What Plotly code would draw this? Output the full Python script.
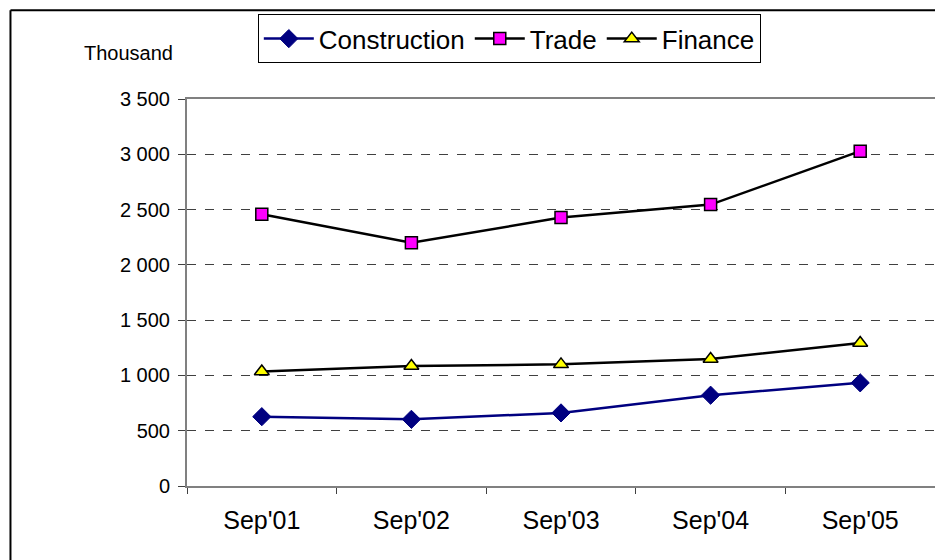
import plotly.graph_objects as go

categories = ["Sep'01", "Sep'02", "Sep'03", "Sep'04", "Sep'05"]
construction = [627, 603, 661, 821, 933]
trade = [2458, 2199, 2428, 2545, 3028]
finance = [1036, 1085, 1100, 1148, 1294]
y_ticks = [0, 500, 1000, 1500, 2000, 2500, 3000, 3500]
y_tick_labels = ["0", "500", "1 000", "1 500", "2 000", "2 500", "3 000", "3 500"]

OFF = 8  # default body margin of the page
W, H = 943 - OFF, 560 - OFF
L = 187 - OFF
T = 98 - OFF
R = W - (937 - OFF)
B = H - (486 - OFF)
pw, ph = W - L - R, H - T - B


def px(x):
    return (x - OFF - L) / pw


def py(y):
    return (H - B - (y - OFF)) / ph


fig = go.Figure()
fig.add_trace(go.Scatter(
    x=categories, y=construction, name="Construction", mode="lines+markers",
    line=dict(color="#000080", width=2.5),
    marker=dict(symbol="diamond", size=14, color="#000080", line=dict(color="#000080", width=1))))
fig.add_trace(go.Scatter(
    x=categories, y=trade, name="Trade", mode="lines+markers",
    line=dict(color="#000000", width=2.5),
    marker=dict(symbol="square", size=12, color="#FF00FF", line=dict(color="#000000", width=1.5))))
fig.add_trace(go.Scatter(
    x=categories, y=finance, name="Finance", mode="lines+markers",
    line=dict(color="#000000", width=2.5),
    marker=dict(symbol="triangle-up", size=13, color="#FFFF00", line=dict(color="#000000", width=1.5))))

fig.update_layout(
    width=W, height=H,
    margin=dict(l=L, r=R, t=T, b=B),
    paper_bgcolor="white", plot_bgcolor="white",
    font=dict(family="Liberation Sans, Arial, sans-serif", color="black"),
    showlegend=True,
    legend=dict(
        orientation="h", x=px(258), y=py(13), xanchor="left", yanchor="top",
        bordercolor="black", borderwidth=1, bgcolor="white",
        font=dict(size=26, family="Liberation Sans, Arial, sans-serif"),
        itemwidth=50, tracegroupgap=0,
    ),
    xaxis=dict(
        type="category", range=[-0.5, 4.5],
        showgrid=False, showline=True, linecolor="#808080", linewidth=2, mirror=True,
        ticks="outside", tickson="boundaries", ticklen=6, tickcolor="#404040",
        tickfont=dict(size=25), ticklabelstandoff=11, zeroline=False,
    ),
    yaxis=dict(
        range=[0, 3500], tickvals=y_ticks, ticktext=y_tick_labels,
        showgrid=True, gridcolor="#404040", griddash="dash", gridwidth=1,
        showline=True, linecolor="#808080", linewidth=2, mirror=True,
        ticks="outside", ticklen=7, tickcolor="#404040",
        tickfont=dict(size=20), ticklabelstandoff=4, zeroline=False,
    ),
    annotations=[dict(
        text="Thousand", xref="paper", yref="paper", x=px(128), y=py(52),
        xanchor="center", yanchor="middle", showarrow=False, font=dict(size=20),
    )],
    shapes=[
        dict(type="line", xref="paper", yref="paper", x0=px(10), x1=px(980), y0=py(9), y1=py(9),
             line=dict(color="black", width=2)),
        dict(type="line", xref="paper", yref="paper", x0=px(10), x1=px(10), y0=py(9), y1=py(620),
             line=dict(color="black", width=2)),
    ],
)

fig.write_html("out.html")
